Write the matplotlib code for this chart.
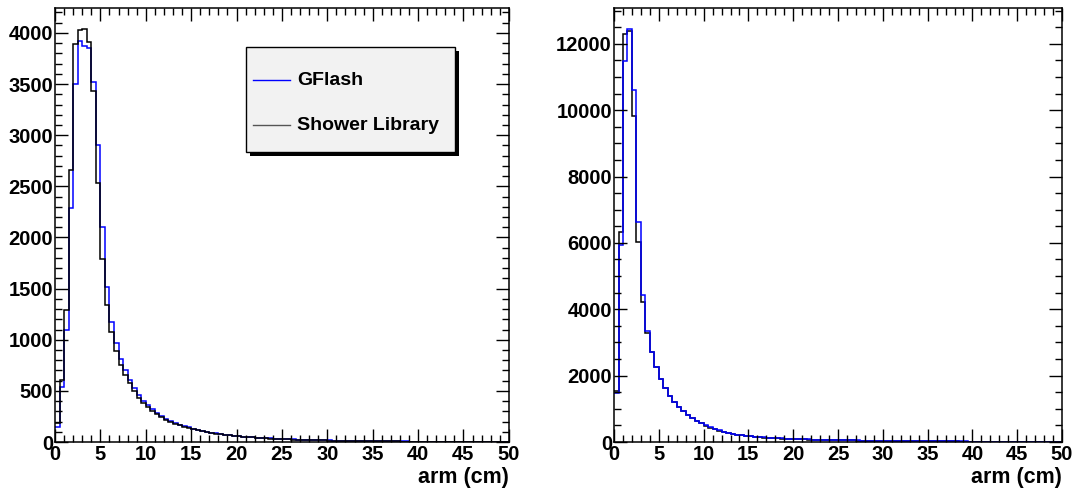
import numpy as np
import matplotlib
matplotlib.use("Agg")
import matplotlib.pyplot as plt
from matplotlib.ticker import MultipleLocator
from matplotlib.patches import Rectangle

plt.rcParams['font.family'] = ['Liberation Sans', 'DejaVu Sans']
plt.rcParams['font.weight'] = 'bold'

# 100 bins of 0.5 cm between 0 and 50 cm
edges = np.linspace(0, 50, 101)

# Left pad: shower arm, GFlash vs Shower Library
left_gflash = [
    150, 540, 1100, 2290, 3500, 3925, 3875, 3850, 3525, 2905,
    2105, 1515, 1170, 965, 815, 705, 610, 532, 462, 405,
    362, 323, 288, 257, 230, 207, 188, 171, 156, 143,
    131, 120, 110, 101, 93, 86, 79, 73, 68, 63,
    58, 54, 50, 46, 43, 40, 37, 35, 32, 30,
    28, 26, 25, 23, 22, 20, 19, 18, 17, 16,
    15, 14, 13, 12, 12, 11, 10, 10, 9, 9,
    8, 8, 7, 7, 7, 6, 6, 6, 5, 5,
    5, 4, 4, 4, 4, 3, 3, 3, 3, 3,
    2, 2, 2, 2, 2, 2, 2, 1, 1, 1,
]
left_library = [
    190, 610, 1290, 2660, 3890, 4030, 4040, 3910, 3430, 2530,
    1790, 1340, 1080, 890, 755, 655, 575, 495, 435, 385,
    340, 307, 272, 240, 215, 195, 178, 162, 148, 136,
    125, 115, 106, 98, 90, 83, 77, 71, 66, 61,
    56, 52, 48, 45, 42, 39, 36, 33, 31, 29,
    27, 25, 23, 22, 20, 19, 18, 17, 16, 15,
    14, 13, 12, 12, 11, 10, 10, 9, 9, 8,
    8, 7, 7, 6, 6, 6, 5, 5, 5, 4,
    4, 4, 4, 3, 3, 3, 3, 3, 2, 2,
    2, 2, 2, 2, 2, 1, 1, 1, 1, 1,
]

# Right pad
right_gflash = [
    1470, 5940, 11470, 12450, 10620, 6620, 4430, 3350, 2720, 2260,
    1900, 1625, 1395, 1220, 1070, 940, 820, 720, 638, 568,
    498, 440, 390, 348, 310, 277, 249, 226, 206, 189,
    174, 161, 149, 139, 130, 122, 115, 108, 102, 97,
    92, 87, 83, 79, 75, 71, 68, 65, 62, 59,
    56, 53, 51, 49, 47, 45, 43, 41, 39, 37,
    35, 34, 32, 31, 30, 28, 27, 26, 25, 24,
    23, 22, 21, 20, 19, 18, 17, 16, 16, 15,
    14, 14, 13, 12, 12, 11, 11, 10, 10, 9,
    9, 9, 8, 8, 8, 7, 7, 7, 6, 6,
]
right_library = [
    1550, 6340, 12300, 12380, 9830, 6040, 4230, 3300, 2700, 2250,
    1890, 1620, 1390, 1215, 1065, 935, 814, 714, 633, 563,
    493, 435, 385, 343, 305, 272, 245, 222, 202, 185,
    170, 157, 145, 135, 126, 118, 111, 105, 99, 94,
    89, 84, 80, 76, 72, 68, 65, 62, 59, 56,
    53, 51, 48, 46, 44, 42, 40, 38, 36, 35,
    33, 32, 30, 29, 28, 26, 25, 24, 23, 22,
    21, 20, 19, 18, 17, 16, 16, 15, 14, 14,
    13, 12, 12, 11, 11, 10, 10, 9, 9, 8,
    8, 8, 7, 7, 7, 6, 6, 6, 5, 5,
]

labels = ['GFlash', 'Shower Library']
blue = '#0000ff'

fig = plt.figure(figsize=(10.78, 4.93), dpi=100)
ax1 = fig.add_axes([0.051, 0.1034, 0.421, 0.880])
ax2 = fig.add_axes([0.5696, 0.1034, 0.4156, 0.880])


def style_axis(ax, ymajor, yminor, ymax):
    ax.set_xlim(0, 50)
    ax.set_ylim(0, ymax)
    ax.xaxis.set_major_locator(MultipleLocator(5))
    ax.xaxis.set_minor_locator(MultipleLocator(1))
    ax.yaxis.set_major_locator(MultipleLocator(ymajor))
    ax.yaxis.set_minor_locator(MultipleLocator(yminor))
    ax.tick_params(which='both', direction='in', top=True, right=True,
                   width=1, labelsize=14.5)
    ax.tick_params(which='major', length=9.5)
    ax.tick_params(which='minor', length=5)
    ax.tick_params(axis='x', pad=2.5)
    ax.tick_params(axis='y', pad=1.5)
    for s in ax.spines.values():
        s.set_linewidth(1.1)
    ax.set_xlabel('arm (cm)', fontsize=15.5, fontweight='bold', loc='right', labelpad=2)


# left: library drawn over gflash
ax1.stairs(left_gflash, edges, baseline=None, color=blue, lw=1.1, label=labels[0])
ax1.stairs(left_library, edges, baseline=None, color='black', lw=1.1, label=labels[1])
style_axis(ax1, 500, 100, 1.05 * max(max(left_gflash), max(left_library)))

# right: gflash drawn over library
ax2.stairs(right_library, edges, baseline=None, color='black', lw=1.1)
ax2.stairs(right_gflash, edges, baseline=None, color=blue, lw=1.1)
style_axis(ax2, 2000, 500, 1.05 * max(max(right_gflash), max(right_library)))

# ROOT-style legend box with a solid shadow
tr = ax1.transAxes
bx, by, bw, bh = 0.4207, 0.668, 0.4604, 0.242
ax1.add_patch(Rectangle((bx + 0.009, by - 0.009), bw, bh, transform=tr,
                        facecolor='black', edgecolor='none', zorder=5, clip_on=False))
ax1.add_patch(Rectangle((bx, by), bw, bh, transform=tr, facecolor='#f2f2f2',
                        edgecolor='black', lw=1.0, zorder=6, clip_on=False))
for yy, col, lab in [(0.834, blue, labels[0]), (0.7304, '#555555', labels[1])]:
    ax1.plot([0.436, 0.5176], [yy, yy], transform=tr, color=col, lw=1.0,
             zorder=7, clip_on=False)
    ax1.text(0.533, yy, lab, transform=tr, fontsize=14, fontweight='bold',
             va='center', ha='left', zorder=7)

fig.savefig('out.png', dpi=100)
